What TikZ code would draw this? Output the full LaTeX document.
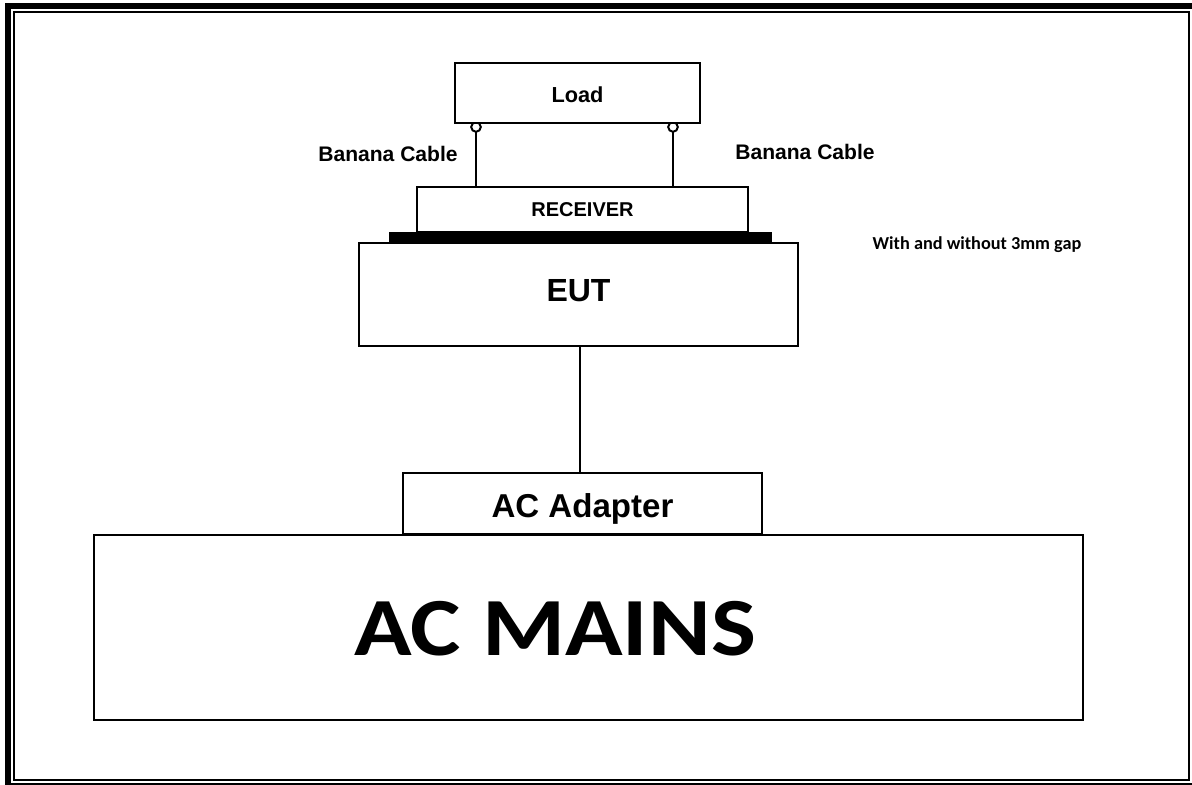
\documentclass[tikz,border=0pt]{standalone}
\usepackage{fontspec}
\setmainfont{Liberation Sans}
\newfontfamily\calib{Carlito}
\newfontfamily\mainsfont[FakeStretch=1.15]{Carlito}
\usetikzlibrary{positioning, calc, backgrounds}

\tikzset{
  unit/.style={draw=black, line width=2.2pt, fill=white, inner sep=0pt, text depth=0pt},
  cable/.style={line width=2.2pt},
  plug/.style={draw=black, line width=1.5pt, fill=white}
}

\begin{document}
\begin{tikzpicture}[x=0.75pt, y=-0.75pt]
  \useasboundingbox (0,0) rectangle (1192,785);

  \draw[line width=4.5pt] (8,785) -- (8,6) -- (1192,6);
  \draw[line width=1.5pt] (5,784) -- (1192,784);
  \draw[line width=1.6pt] (14,12) rectangle (1189,780);

  \node[unit, minimum width=183.75pt, minimum height=45pt, text height=14.7pt] (load) at (577.5,93)
    {\fontsize{16.3}{18}\selectfont\bfseries Load};
  \node[unit, minimum width=248.25pt, minimum height=33.75pt, text height=10.7pt] (receiver) at (582.5,209.5)
    {\fontsize{15}{17}\selectfont\bfseries RECEIVER};
  \node[fill=black, inner sep=0pt, minimum width=287.25pt, minimum height=7.5pt] (bar) at (580.5,237) {};
  \node[unit, minimum width=329.25pt, minimum height=77.25pt, text height=10.4pt] (eut) at (578.5,294.5)
    {\fontsize{24}{26}\selectfont\bfseries EUT};
  \node[unit, minimum width=269.25pt, minimum height=45.75pt, text height=21.6pt] (adapter) at (582.5,503.5)
    {\fontsize{24.8}{27}\selectfont\bfseries AC Adapter};
  \node[unit, minimum width=741.75pt, minimum height=138.75pt] (mains) at (588.5,627.5) {};
  \node (mainslabel) at (555,629) {\mainsfont\fontsize{62}{66}\selectfont\bfseries AC MAINS};

  \begin{scope}[on background layer]
    \coordinate (plugA) at (476,127);
    \coordinate (plugB) at (673,127);
    \draw[cable] (plugA) -- (plugA |- receiver.north);
    \draw[cable] (plugB) -- (plugB |- receiver.north);
    \draw[plug] (plugA) circle[radius=3.6pt];
    \draw[plug] (plugB) circle[radius=3.6pt];
  \end{scope}

  \draw[cable] (580,0 |- eut.south) -- (580,0 |- adapter.north);

  \node (cableA) at (388,154) {\fontsize{15.8}{18}\selectfont\bfseries Banana Cable};
  \node (cableB) at (805,152) {\fontsize{15.8}{18}\selectfont\bfseries Banana Cable};
  \node (gap) at (977,245) {\calib\fontsize{13.7}{16}\selectfont\bfseries With and without 3mm gap};
\end{tikzpicture}
\end{document}
